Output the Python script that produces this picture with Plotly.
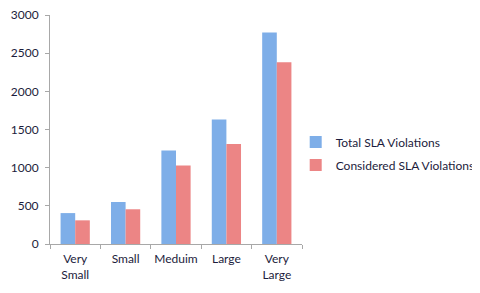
import plotly.graph_objects as go

categories = ["Very<br>Small", "Small", "Meduim", "Large", "Very<br>Large"]
total_sla = [405, 550, 1225, 1630, 2770]
considered_sla = [310, 455, 1030, 1310, 2380]

fig = go.Figure()
fig.add_trace(go.Bar(x=categories, y=total_sla, name="Total SLA Violations", legendgroup="a",
                     marker=dict(color="#7eaee8", line=dict(width=0))))
fig.add_trace(go.Bar(x=categories, y=considered_sla, name="Considered SLA Violations", legendgroup="b",
                     marker=dict(color="#ec8585", line=dict(width=0))))

# page body has an 8px margin, so the figure is sized/offset to compensate
fig.update_layout(
    width=472, height=285,
    margin=dict(l=42, r=178, t=7, b=49, autoexpand=False),
    paper_bgcolor="white", plot_bgcolor="white",
    barmode="group", bargap=0.42, bargroupgap=0,
    font=dict(family="Lato, Open Sans, sans-serif", size=12, color="#1c1c3c"),
    legend=dict(x=0.975, y=0.395, xanchor="left", yanchor="middle",
                font=dict(size=12), itemwidth=30, tracegroupgap=4,
                bgcolor="rgba(0,0,0,0)"),
)
fig.update_xaxes(showline=True, linecolor="#a8a8a8", linewidth=1, automargin=False,
                 ticks="outside", tickson="boundaries", ticklen=4, tickcolor="#a8a8a8",
                 showgrid=False, tickfont=dict(size=12), tickangle=0, ticklabelstandoff=4,
                 ticklabeloverflow="allow")
fig.update_yaxes(range=[0, 3000], dtick=500, showline=True, linecolor="#a8a8a8", linewidth=1,
                 automargin=False, ticklabelstandoff=4, ticklabeloverflow="allow",
                 ticks="outside", ticklen=4, tickcolor="#a8a8a8", showgrid=False,
                 zeroline=False, tickfont=dict(size=12))

fig.write_html("out.html")
